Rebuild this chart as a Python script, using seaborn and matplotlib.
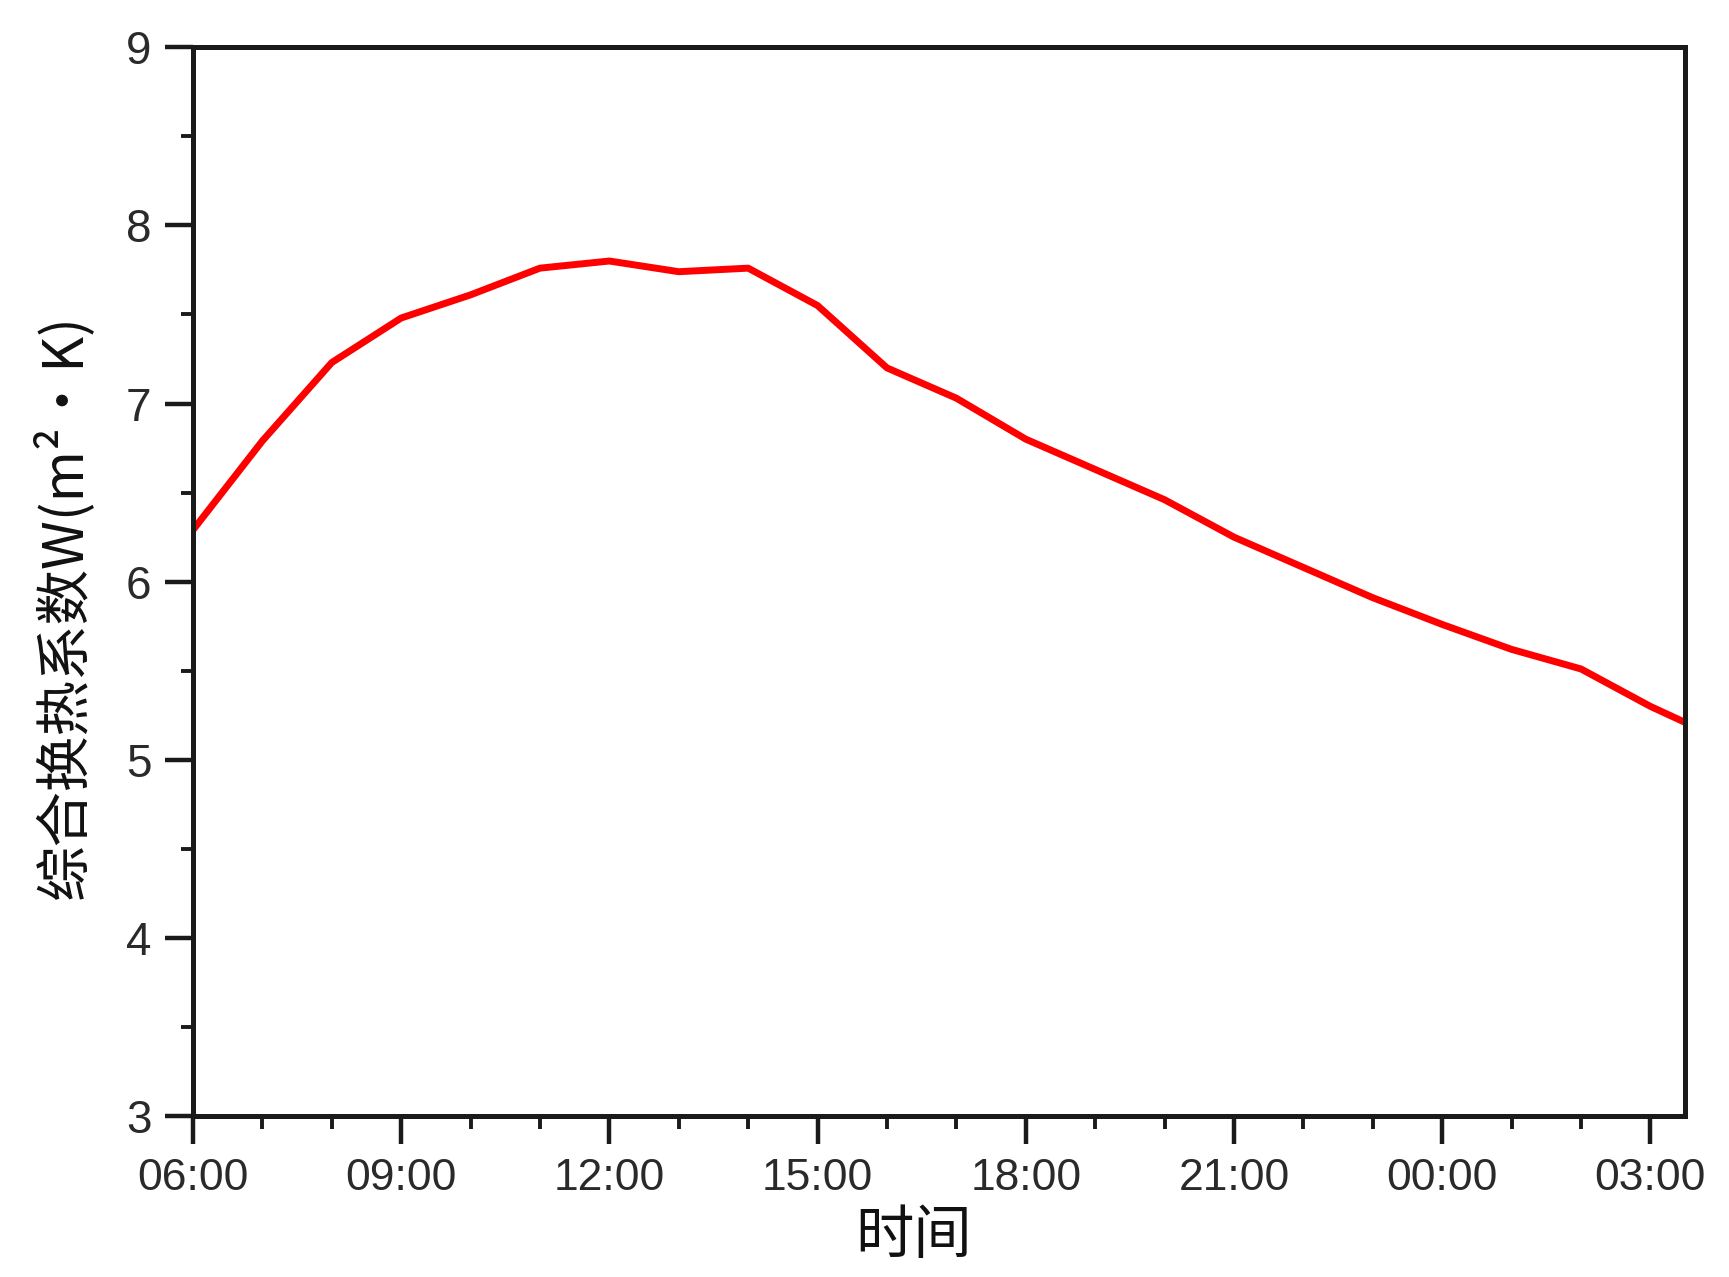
import matplotlib
matplotlib.use("Agg")
import matplotlib.pyplot as plt
import seaborn as sns
import pandas as pd
from matplotlib.ticker import MultipleLocator, FixedLocator, FixedFormatter

# Hours elapsed since 06:00
hours = [0, 1, 2, 3, 4, 5, 5.5, 6, 7, 7.5, 8, 9, 10, 11, 12, 13, 14, 15, 16, 17, 18, 19, 20, 21, 21.5]
values = [6.29, 6.79, 7.23, 7.48, 7.61, 7.76, 7.78, 7.80, 7.74, 7.75, 7.76, 7.55, 7.20, 7.03,
          6.80, 6.63, 6.46, 6.25, 6.08, 5.91, 5.76, 5.62, 5.51, 5.30, 5.21]
tick_hours = [0, 3, 6, 9, 12, 15, 18, 21]
tick_labels = ["06:00", "09:00", "12:00", "15:00", "18:00", "21:00", "00:00", "03:00"]
ylabel = "综合换热系数W(m²·K)"
xlabel = "时间"

df = pd.DataFrame({"hours": hours, "value": values})

sns.set_theme(style="white")
plt.rcParams["font.family"] = ["Liberation Sans", "Noto Sans CJK SC", "DejaVu Sans"]

fig = plt.figure(figsize=(17.29, 12.77), dpi=100)
ax = fig.add_axes([0.1116, 0.126, 0.8630, 0.837])

sns.lineplot(data=df, x="hours", y="value", ax=ax, color="#ff0000", linewidth=5.0)

ax.set_xlim(0, 21.5)
ax.set_ylim(3, 9)

ax.xaxis.set_major_locator(FixedLocator(tick_hours))
ax.xaxis.set_major_formatter(FixedFormatter(tick_labels))
ax.xaxis.set_minor_locator(MultipleLocator(1))
ax.yaxis.set_major_locator(MultipleLocator(1))
ax.yaxis.set_minor_locator(MultipleLocator(0.5))

spine_col = "#1a1a1a"
for s in ax.spines.values():
    s.set_visible(True)
    s.set_color(spine_col)
    s.set_linewidth(3.6)

ax.tick_params(axis="both", which="major", direction="out", length=20, width=3.2,
               color=spine_col, pad=10)
ax.tick_params(axis="both", which="minor", direction="out", length=9, width=2.8,
               color=spine_col)
ax.tick_params(axis="x", which="both", bottom=True, top=False)
ax.tick_params(axis="y", which="both", left=True, right=False)

for lab in ax.get_yticklabels():
    lab.set_fontsize(33)
    lab.set_color("#2a2a2a")
for lab in ax.get_xticklabels():
    lab.set_fontsize(32)
    lab.set_color("#2a2a2a")

ax.set_xlabel(xlabel, fontsize=42, family=["Noto Sans CJK SC", "DejaVu Sans"],
              color="#111111")
ax.set_ylabel(ylabel, fontsize=40, family=["Noto Sans CJK SC", "DejaVu Sans"],
              color="#111111")
ax.xaxis.set_label_coords(0.483, -0.084)
ax.yaxis.set_label_coords(-0.066, 0.477)

fig.savefig("out.png", dpi=100, facecolor="white")
